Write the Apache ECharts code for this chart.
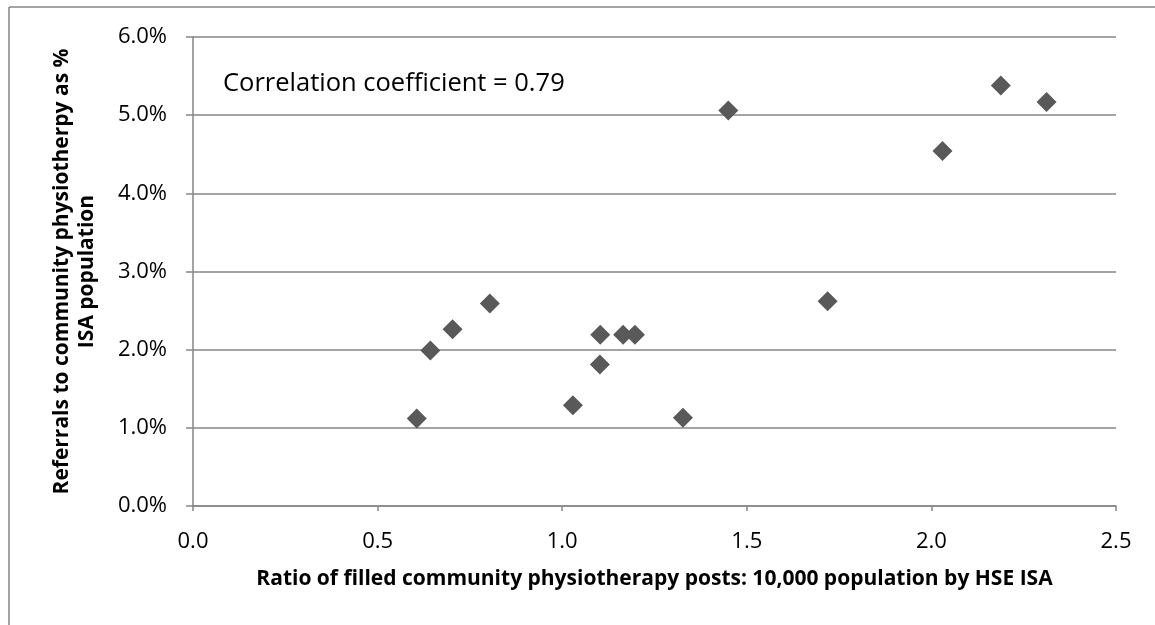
<!DOCTYPE html>
<html>
<head>
<meta charset="utf-8">
<script src="https://cdn.jsdelivr.net/npm/echarts@6/dist/echarts.min.js"></script>
<style>
html,body{margin:0;padding:0;background:#fff;}
#chart{width:1155px;height:625px;}
</style>
</head>
<body>
<div id="chart"></div>
<script>
// Data
var postsRatio = [0.606, 0.643, 0.703, 0.804, 1.029, 1.103, 1.102, 1.165, 1.197, 1.327, 1.450, 1.719, 2.030, 2.188, 2.312];
var referralsPct = [1.12, 1.99, 2.26, 2.59, 1.29, 2.19, 1.81, 2.19, 2.19, 1.13, 5.06, 2.62, 4.54, 5.38, 5.17];
var xTicks = [0, 0.5, 1.0, 1.5, 2.0, 2.5];
var yTicks = [0, 1, 2, 3, 4, 5, 6];
var xTitle = 'Ratio of filled community physiotherapy posts: 10,000 population by HSE ISA';
var yTitle = 'Referrals to community physiotherpy as %\nISA population';
var note = 'Correlation coefficient = 0.79';

var points = postsRatio.map(function (x, i) { return [x, referralsPct[i]]; });
var FONT = "'Open Sans', 'Noto Sans', sans-serif";
var GRAY = '#868686';

var chart = echarts.init(document.getElementById('chart'), null, {renderer: 'canvas'});
chart.setOption({
  animation: false,
  backgroundColor: '#fff',
  grid: {left: 193, right: 39, top: 37, bottom: 119, containLabel: false},
  xAxis: {
    type: 'value',
    min: xTicks[0], max: xTicks[xTicks.length - 1], interval: 0.5,
    name: xTitle, nameLocation: 'middle', nameGap: 63,
    nameTextStyle: {fontFamily: FONT, fontWeight: 'bold', fontSize: 21, color: '#000'},
    axisLine: {show: true, lineStyle: {color: GRAY, width: 1.5}},
    axisTick: {show: true, length: 5, lineStyle: {color: GRAY, width: 1.5}},
    axisLabel: {fontFamily: FONT, fontSize: 22, color: '#000', margin: 25,
      formatter: function (v) { return v.toFixed(1); }},
    splitLine: {show: false}
  },
  yAxis: {
    type: 'value',
    min: yTicks[0], max: yTicks[yTicks.length - 1], interval: 1,
    name: yTitle, nameLocation: 'middle', nameGap: 93, nameRotate: 90,
    nameTextStyle: {fontFamily: FONT, fontWeight: 'bold', fontSize: 21, color: '#000', lineHeight: 25, align: 'center'},
    axisLine: {show: true, lineStyle: {color: GRAY, width: 1.5}},
    axisTick: {show: true, length: 7, lineStyle: {color: GRAY, width: 1.5}},
    axisLabel: {fontFamily: FONT, fontSize: 22, color: '#000', margin: 26,
      formatter: function (v) { return v.toFixed(1) + '%'; }},
    splitLine: {show: true, lineStyle: {color: GRAY, width: 1.5}}
  },
  series: [{
    type: 'scatter',
    data: points,
    symbol: 'diamond',
    symbolSize: [20, 20],
    itemStyle: {color: '#595959', opacity: 1}
  }],
  graphic: [
    {type: 'line', shape: {x1: 9, y1: 7, x2: 9, y2: 625}, style: {stroke: GRAY, lineWidth: 1.5}},
    {type: 'line', shape: {x1: 9, y1: 7, x2: 1155, y2: 7}, style: {stroke: GRAY, lineWidth: 1.5}},
    {type: 'text', left: 223, top: 71, style: {text: note, fontFamily: FONT, fontSize: 25.5, fill: '#000'}}
  ]
});
</script>
</body>
</html>
